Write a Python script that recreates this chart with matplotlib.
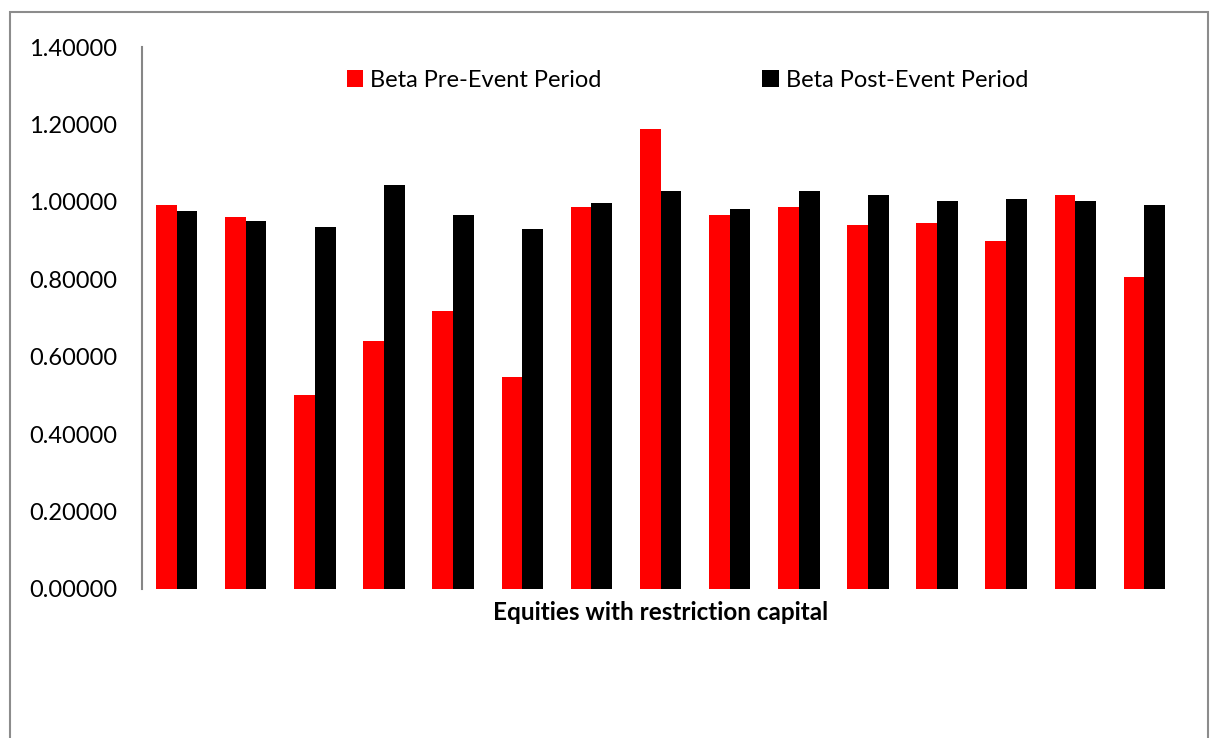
import numpy as np
import matplotlib.pyplot as plt
from matplotlib.patches import Rectangle

# beta estimates for the 15 equities with capital restriction
beta_pre = [0.992, 0.961, 0.501, 0.641, 0.718, 0.548, 0.987, 1.189,
            0.966, 0.987, 0.941, 0.946, 0.899, 1.018, 0.806]
beta_post = [0.977, 0.951, 0.935, 1.044, 0.966, 0.930, 0.997, 1.028,
             0.982, 1.028, 1.018, 1.003, 1.008, 1.003, 0.992]
yticks = [0.0, 0.2, 0.4, 0.6, 0.8, 1.0, 1.2, 1.4]

plt.rcParams['font.family'] = ['Lato', 'DejaVu Sans']

fig = plt.figure(figsize=(12.12, 7.38), dpi=100)
ax = fig.add_axes([0.1172, 0.2019, 0.8556, 0.7344])

x = np.arange(len(beta_pre))
w = 0.30
ax.bar(x - w / 2, beta_pre, w, color='#ff0000', label='Beta Pre-Event Period')
ax.bar(x + w / 2, beta_post, w, color='#000000', label='Beta Post-Event Period')

ax.set_xlim(-0.5, len(beta_pre) - 0.5)
ax.set_ylim(0, 1.4)
ax.set_yticks(yticks)
ax.set_yticklabels(['%.5f' % v for v in yticks])
ax.set_xticks([])
ax.tick_params(axis='y', length=0, pad=18, labelsize=17)
for s in ['top', 'right', 'bottom']:
    ax.spines[s].set_visible(False)
ax.spines['left'].set_color('#868686')
ax.spines['left'].set_linewidth(1.5)

ax.set_xlabel('Equities with restriction capital', fontsize=17.5,
              fontweight='bold', labelpad=9)

ax.legend(loc='center', bbox_to_anchor=(0.526, 0.939), ncol=2, frameon=False,
          fontsize=17, handlelength=0.7, handleheight=0.7, handletextpad=0.3,
          columnspacing=6.8)

# outer chart border
fig.patches.append(Rectangle((10 / 1212, -0.1), 1198 / 1212, 1.1 - 12 / 738,
                             transform=fig.transFigure, fill=False,
                             edgecolor='#8c8c8c', linewidth=1.5))

fig.savefig('out.png', dpi=100)
